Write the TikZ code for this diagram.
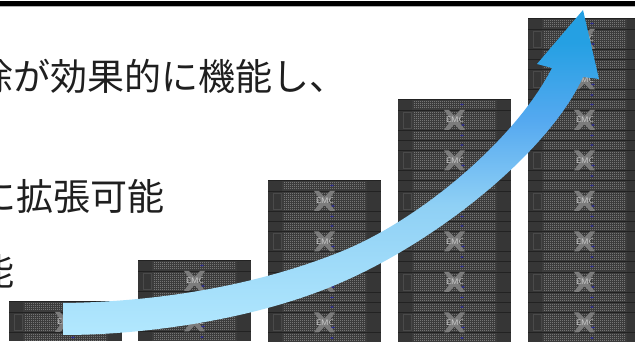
\documentclass[tikz,border=0pt]{standalone}
\usepackage{fontspec}
\newfontfamily\jpfont{Noto Sans CJK JP}
\definecolor{srvbase}{HTML}{3C3C3C}
\definecolor{srvdark}{HTML}{363636}
\definecolor{srvedge}{HTML}{222222}
\definecolor{srvdot}{HTML}{757575}
\definecolor{srvline}{HTML}{4A4A4A}
\definecolor{srvx}{HTML}{7C7C7C}
\definecolor{srvblue}{HTML}{2A2A90}
\definecolor{arrowA}{HTML}{25A0E3}
\definecolor{arrowB}{HTML}{55A9F0}
\definecolor{arrowC}{HTML}{8FD0F5}
\definecolor{arrowD}{HTML}{B2E8FE}
\pgfdeclareverticalshading{risegrad}{100bp}{color(0bp)=(arrowD); color(25bp)=(arrowD); color(45bp)=(arrowC); color(58bp)=(arrowB); color(70bp)=(arrowA); color(75bp)=(arrowA); color(100bp)=(arrowA)}
\tikzset{
  bodytext/.style={font=\jpfont\fontsize{37}{40}\selectfont,text=black!88,anchor=base west,inner sep=0pt},
  dotrow/.style={draw=srvdot,line width=0.8pt,dash pattern=on 0.9pt off 1.1pt},
  pics/serverunit/.style={code={
    \fill[srvbase] (0,0) rectangle (113,40.5);
    \fill[srvdark] (0,0) rectangle (14,40.5);
    \fill[srvdark] (99,0) rectangle (113,40.5);
    \draw[srvedge,line width=0.7pt] (0,0.4)--(113,0.4);
    \draw[srvedge,line width=0.7pt] (0,11)--(113,11) (0,31)--(113,31);
    \draw[srvline,line width=0.5pt] (5,13) rectangle (13,29);
    \foreach \yy in {2.5,4.5,6.5,8.5,13,15,17,19,21,23,25,27,29,33,35,37,39}{\draw[dotrow] (16,\yy)--(97,\yy);}
    \fill[srvx] (46,11)--(51,11)--(56.5,17)--(62,11)--(67,11)--(60,21)--(67,31)--(62,31)--(56.5,25)--(51,31)--(46,31)--(53,21)--cycle;
    \node[inner sep=0pt,text=white!82!black,font=\sffamily\fontsize{8}{9}\selectfont] (lbl) at (57,21) {EMC};
    \fill[srvblue] (64,5.5) ellipse (1.8 and 1);
    \fill[srvblue] (65,26) ellipse (1.8 and 1);
    \fill[srvblue] (64,36.5) ellipse (1.8 and 1);
  }}
}
\begin{document}
\begin{tikzpicture}[x=1pt,y=-1pt]
\useasboundingbox (0,0) rectangle (635,347);
\clip (0,0) rectangle (635,347);
\fill[white] (0,0) rectangle (635,347);
% top rule
\fill[black] (0,1) rectangle (635,6);
\fill[black!30] (0,6) rectangle (635,7);
% text
\node[bodytext] (lineA) at (-23.5,91) {除が効果的に機能し、};
\node[bodytext] (lineB) at (-21,211) {に拡張可能};
\node[bodytext] (lineC) at (-23,286) {能};
% server stacks
\begin{scope}
\clip (0,0) rectangle (635,343);
\foreach \sx/\sy/\sn in {9/301/1,138/260/2,268/180/4,398/99/6,528/18/8}{
  \foreach \k in {1,...,\sn}{
    \pic at (\sx,{\sy+(\k-1)*40.5}) {serverunit};
  }
}
\end{scope}
% growth arrow
\path[shading=risegrad]
  (63,303) .. controls (150,302) and (250,288) .. (340,252)
  .. controls (420,220) and (515,140) .. (552,68)
  -- (537,64) -- (583,10) -- (599,79) -- (583,77)
  .. controls (550,150) and (440,240) .. (340,283)
  .. controls (260,318) and (150,335) .. (63,335) -- cycle;
\end{tikzpicture}
\end{document}
